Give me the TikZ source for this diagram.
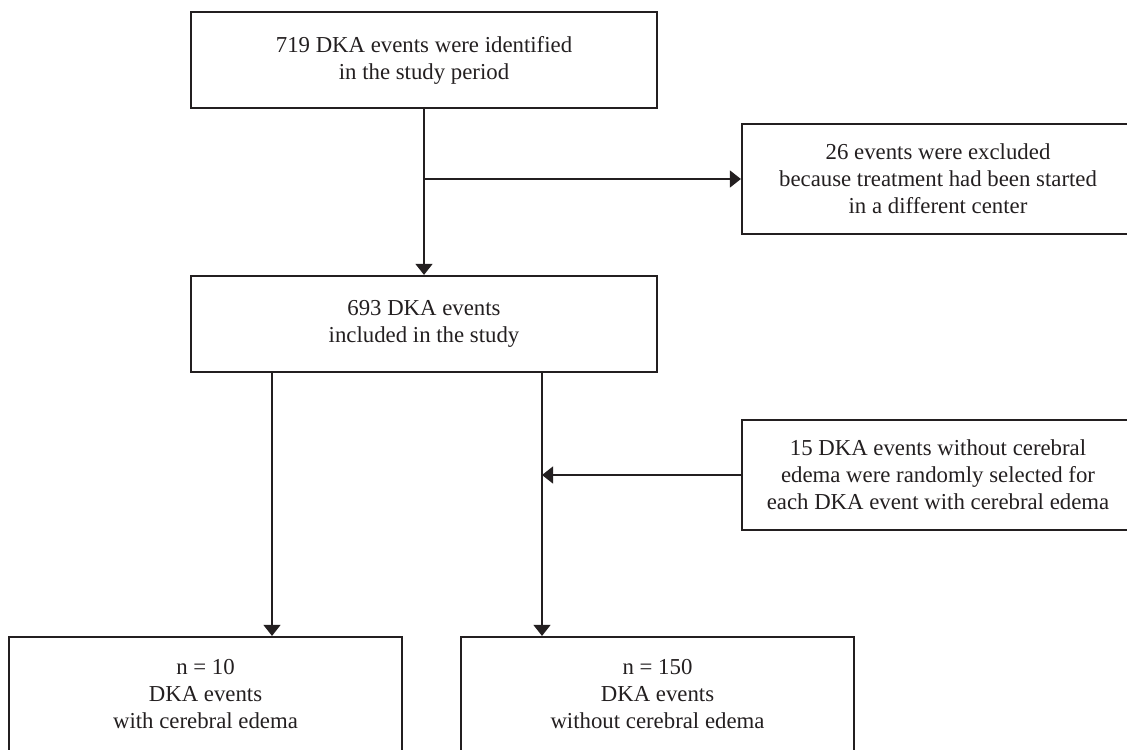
\documentclass[tikz,border=0pt]{standalone}
\usepackage{fontspec}
\setmainfont{Liberation Serif}
\usepackage{xcolor}
\usetikzlibrary{arrows.meta}
\definecolor{inkline}{RGB}{35,31,32}

\begin{document}
\begin{tikzpicture}[x=0.5pt,y=-0.5pt,
            bigbox/.style={draw=inkline,line width=1.1pt,minimum width=233pt,minimum height=48pt,inner sep=0pt,align=center,text=inkline,font=\fontsize{11.4}{13.5}\selectfont},
            sidebox/.style={bigbox,minimum width=196pt,minimum height=55pt},
            endbox/.style={bigbox,minimum width=196.5pt,minimum height=57pt},
            flow/.style={draw=inkline,line width=0.6pt,-{Triangle[length=5.5pt,width=8.5pt]}}]
            \useasboundingbox (0,0) rectangle (1127,749);
            \clip (0,0) rectangle (1127,749);
            \node[bigbox] (identified) at (424,60) {719 DKA events were identified\\in the study period};
            \node[sidebox] (excluded) at (938,179) {26 events were excluded\\because treatment had been started\\in a different center};
            \node[bigbox] (included) at (424,324) {693 DKA events\\included in the study};
            \node[sidebox] (selected) at (938,475) {15 DKA events without cerebral\\edema were randomly selected for\\each DKA event with cerebral edema};
            \node[endbox] (withce) at (205.5,694) {n = 10\\DKA events\\with cerebral edema};
            \node[endbox] (withoutce) at (657.5,694) {n = 150\\DKA events\\without cerebral edema};
            \coordinate (leftdrop) at (272,372);
            \coordinate (rightdrop) at (542,372);
            \draw[flow] (identified.south) -- (included.north);
            \draw[flow] (identified.south |- excluded.west) -- (excluded.west);
            \draw[flow] (leftdrop) -- (leftdrop |- withce.north);
            \draw[flow] (rightdrop) -- (rightdrop |- withoutce.north);
            \draw[flow] (selected.west) -- (selected.west -| rightdrop);
        \end{tikzpicture}
\end{document}
